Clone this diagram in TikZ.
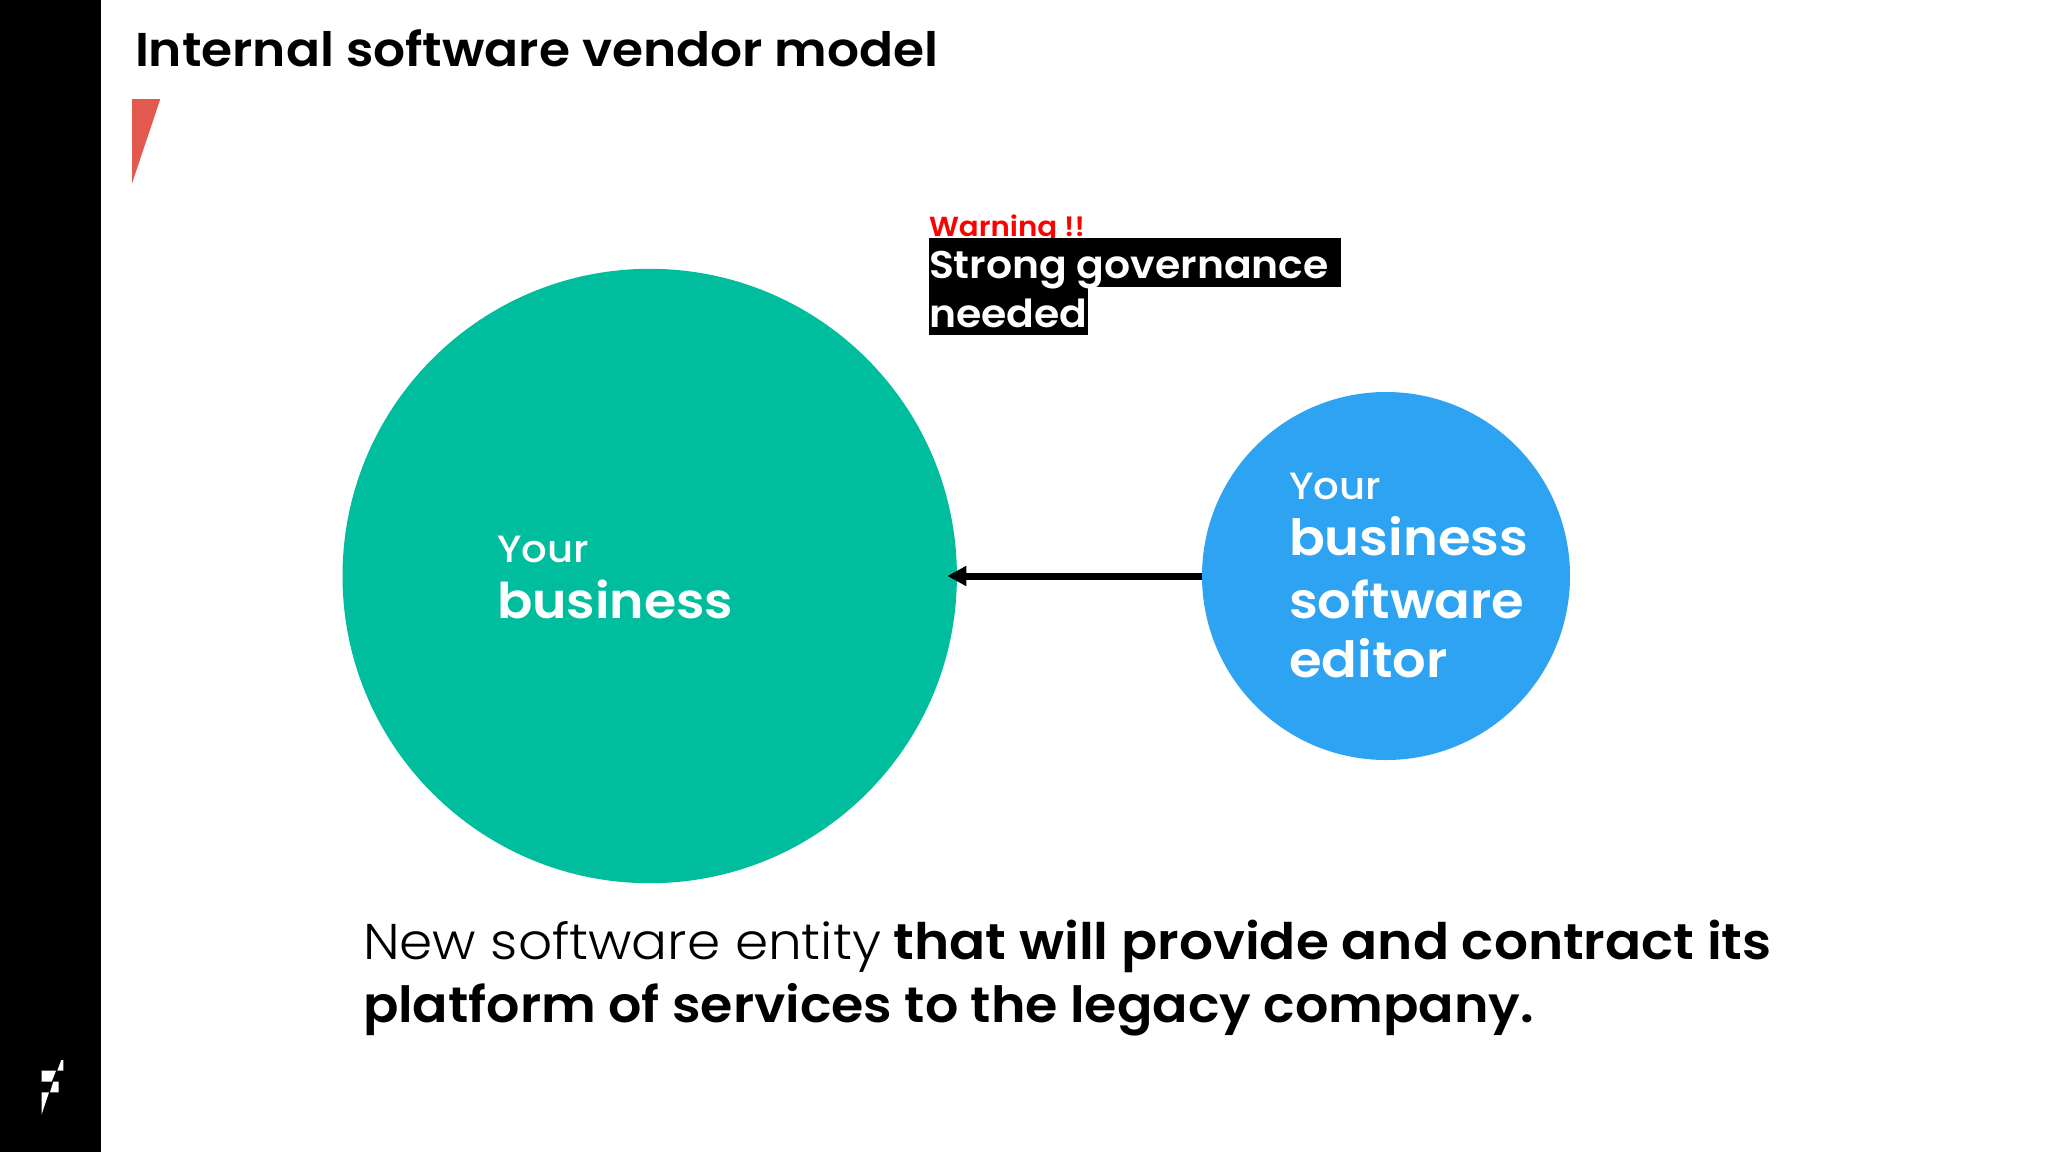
\documentclass[tikz,border=0pt]{standalone}
\usepackage{fontspec}
\usetikzlibrary{arrows.meta}
\setmainfont{Poppins}
\newfontfamily\popmd[FakeStretch=1.06]{Poppins Medium}
\newfontfamily\popsb[FakeStretch=1.06]{Poppins SemiBold}
\newfontfamily\popsbn[FakeStretch=1.05]{Poppins SemiBold}
\newfontfamily\poplt[FakeStretch=1.06]{Poppins Light}
\definecolor{tealc}{HTML}{00BD9D}
\definecolor{bluec}{HTML}{2DA3F2}
\definecolor{redtri}{HTML}{E25A4E}
\newcommand{\yourword}{{\fontsize{19pt}{28pt}\popmd Your}}
\tikzset{
  txt/.style={inner sep=0pt,outer sep=0pt,anchor=base west,align=left},
  disc/.style={circle,inner sep=0pt,outer sep=0pt,draw=none},
}
\begin{document}
\begin{tikzpicture}[x=0.5pt,y=-0.5pt]
\useasboundingbox (0,0) rectangle (2048,1152);
\fill[white] (0,0) rectangle (2048,1152);
\fill[black] (0,0) rectangle (100.5,1152);
% logo
\fill[white] (41.7,1070.7) -- (56,1070.7) -- (51.7,1081.7) -- (41.7,1081.7) -- cycle;
\fill[white] (57.3,1070.7) -- (61.3,1060) -- (63.3,1060) -- (63.3,1070.7) -- cycle;
\fill[white] (53.3,1081.7) -- (58.7,1081.7) -- (58.7,1092.3) -- (50,1092.3) -- cycle;
\fill[white] (41.7,1092.3) -- (49,1092.3) -- (41.7,1114.3) -- cycle;
% accent
\fill[redtri] (132,99) -- (160.3,99) -- (132,183.5) -- cycle;
\node[txt,font=\fontsize{23.7pt}{28pt}\popsb] (title) at (135,66) {Internal software vendor model};
% circles
\node[disc,fill=tealc,minimum size=307.2pt] (biz) at (649.7,576) {};
\node[disc,fill=bluec,minimum size=184pt] (editor) at (1386,576) {};
\draw[line width=3.5pt,-{Triangle[length=9.5pt,width=9.5pt]},shorten >=-4.8pt] (editor.west) -- (biz.east);
% labels
\node[txt,text=white,font=\fontsize{24.6pt}{28pt}\popsb] (bizlabel) at (497,618) {\yourword\\business};
\node[txt,text=white,font=\fontsize{24.9pt}{29.5pt}\popsb] (editorlabel) at (1289,677) {\yourword\\[-1.5pt]business\\[2pt]software\\editor};
% warning
\node[txt,text={rgb,255:red,255;green,0;blue,0},font=\fontsize{13.8pt}{16pt}\popsb] (warn) at (929,236) {Warning !!};
\fill[black] (929,238) rectangle (1340.7,287);
\fill[black] (929,287) rectangle (1088,335);
\node[txt,text=white,font=\fontsize{19.3pt}{24.5pt}\popsb] (gov) at (929,327) {Strong governance\\needed};
% caption
\node[txt,font=\fontsize{25.15pt}{31.5pt}\popsb] (cap) at (363,1022) {{\poplt New software entity} that will provide and contract its\\{\fontsize{24.9pt}{31.5pt}\popsbn platform of services to the legacy company.}};
\end{tikzpicture}
\end{document}
